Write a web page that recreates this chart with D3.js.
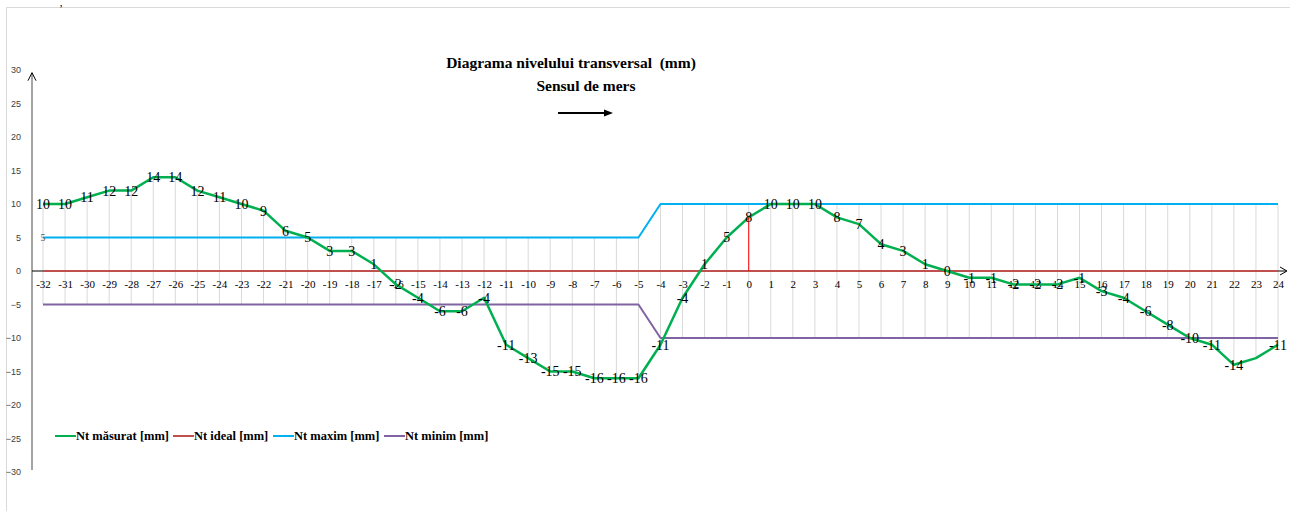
<!DOCTYPE html>
<html><head><meta charset="utf-8">
<script src="https://cdnjs.cloudflare.com/ajax/libs/d3/7.8.5/d3.min.js"></script>
<style>
html,body{margin:0;padding:0;background:#fff;}
svg{display:block;}
</style></head>
<body>
<svg id="c" width="1290" height="511"></svg>
<script>
// ---- data ----
const categories = d3.range(-32, 25);
const measured = [10,10,11,12,12,14,14,12,11,10,9,6,5,3,3,1,-2,-4,-6,-6,-4,-11,-13,-15,-15,-16,-16,-16,-11,-4,1,5,8,10,10,10,8,7,4,3,1,0,-1,-1,-2,-2,-2,-1,-3,-4,-6,-8,-10,-11,-14,-13,-11];
const ideal = categories.map(() => 0);
const maxim = [5,5,5,5,5,5,5,5,5,5,5,5,5,5,5,5,5,5,5,5,5,5,5,5,5,5,5,5,10,10,10,10,10,10,10,10,10,10,10,10,10,10,10,10,10,10,10,10,10,10,10,10,10,10,10,10,10];
const minim = [-5,-5,-5,-5,-5,-5,-5,-5,-5,-5,-5,-5,-5,-5,-5,-5,-5,-5,-5,-5,-5,-5,-5,-5,-5,-5,-5,-5,-10,-10,-10,-10,-10,-10,-10,-10,-10,-10,-10,-10,-10,-10,-10,-10,-10,-10,-10,-10,-10,-10,-10,-10,-10,-10,-10,-10,-10];
const unlabeled = [23];
const maximLabelAt = [-32];
const redMarker = [{cat: 0, from: 0, to: 8}];
const yTicks = [30,25,20,15,10,5,0,-5,-10,-15,-20,-25,-30];
const seriesNames = ["Nt măsurat [mm]", "Nt ideal [mm]", "Nt maxim [mm]", "Nt minim [mm]"];
const seriesColors = ["#00B050", "#C0504D", "#00B0F0", "#8064A2"];
const title = "Diagrama nivelului transversal  (mm)";
const subtitle = "Sensul de mers";

// ---- chart ----
const svg = d3.select("#c");
const x = d3.scalePoint().domain(categories).range([43, 1278]);
const y = d3.scaleLinear().domain([-30, 30]).range([472, 70]);

// frame
svg.append("path").attr("d", "M6.5,511 V7.5 H1290").attr("fill", "none").attr("stroke", "#D9D9D9").attr("stroke-width", 1);
svg.append("text").attr("x", 60).attr("y", 6).attr("font-family", "Liberation Serif").attr("font-weight", "bold").attr("font-size", 9).text(",");

// high-low lines
const all = [measured, ideal, maxim, minim];
svg.append("g").selectAll("line").data(categories).join("line")
  .attr("x1", d => x(d)).attr("x2", d => x(d))
  .attr("y1", (d, i) => y(d3.max(all, s => s[i])))
  .attr("y2", (d, i) => y(d3.min(all, s => s[i])))
  .attr("stroke", "#D9D9D9").attr("stroke-width", 1);

// y axis
const yAxis = svg.append("g").attr("transform", "translate(32,0)")
  .call(d3.axisLeft(y).tickValues(yTicks).tickSize(0).tickPadding(11));
yAxis.select(".domain").attr("stroke", "#868686").attr("stroke-width", 1.5).attr("d", `M0,${y(-29.7)}V${y(29.6)}`);
yAxis.selectAll("text").attr("font-family", "Liberation Sans").attr("font-size", 9).attr("fill", "#404040");
svg.append("path").attr("d", `M28,${y(29)+4} L32,${y(29.6)} L36,${y(29)+4}`).attr("fill", "none").attr("stroke", "#000").attr("stroke-width", 1);

// x axis line with arrow
svg.append("line").attr("x1", 32).attr("x2", 1286).attr("y1", y(0)).attr("y2", y(0)).attr("stroke", "#000").attr("stroke-width", 1);
svg.append("path").attr("d", `M1280,${y(0)-4} L1287,${y(0)} L1280,${y(0)+4}`).attr("fill", "none").attr("stroke", "#000").attr("stroke-width", 1);

// x tick labels
const xAxis = svg.append("g").attr("transform", `translate(0,${y(0)})`)
  .call(d3.axisBottom(x).tickSize(0).tickPadding(9));
xAxis.select(".domain").remove();
xAxis.selectAll("text").attr("font-family", "Liberation Serif").attr("font-size", 11).attr("fill", "#000");

// series lines
const line = d3.line().x((d, i) => x(categories[i])).y(d => y(d));
const order = [1, 2, 3, 0];
order.forEach(k => {
  svg.append("path").datum(all[k]).attr("d", line).attr("fill", "none")
    .attr("stroke", seriesColors[k]).attr("stroke-width", k === 0 ? 2.5 : 2).attr("stroke-linejoin", "round");
});

// red marker
svg.append("g").selectAll("line").data(redMarker).join("line")
  .attr("x1", d => x(d.cat)).attr("x2", d => x(d.cat))
  .attr("y1", d => y(d.from)).attr("y2", d => y(d.to))
  .attr("stroke", "#FF0000").attr("stroke-width", 1);

// data labels
svg.append("g").selectAll("text").data(categories.map((c, i) => ({c, v: measured[i]})).filter(d => !unlabeled.includes(d.c)))
  .join("text")
  .attr("x", d => x(d.c)).attr("y", d => y(d.v)).attr("dy", "0.35em")
  .attr("text-anchor", "middle").attr("font-family", "Liberation Serif").attr("font-size", 14).attr("fill", "#000")
  .text(d => d.v);
svg.append("g").selectAll("text").data(maximLabelAt).join("text")
  .attr("x", d => x(d)).attr("y", d => y(maxim[categories.indexOf(d)])).attr("dy", "0.35em")
  .attr("text-anchor", "middle").attr("font-family", "Liberation Serif").attr("font-size", 10).attr("fill", "#595959")
  .text(d => maxim[categories.indexOf(d)]);

// title
svg.append("text").attr("x", 571).attr("y", 68).attr("text-anchor", "middle").style("white-space", "pre")
  .attr("font-family", "Liberation Serif").attr("font-weight", "bold").attr("font-size", 15.5).text(title);
svg.append("text").attr("x", 586).attr("y", 91).attr("text-anchor", "middle")
  .attr("font-family", "Liberation Serif").attr("font-weight", "bold").attr("font-size", 15.5).text(subtitle);
svg.append("line").attr("x1", 558).attr("x2", 606).attr("y1", 113).attr("y2", 113).attr("stroke", "#000").attr("stroke-width", 2);
svg.append("path").attr("d", "M604,109.5 L613,113 L604,116.5 Z").attr("fill", "#000");

// legend
const legendX = [55, 173, 273, 384];
const lg = svg.append("g").selectAll("g").data(seriesNames).join("g")
  .attr("transform", (d, i) => `translate(${legendX[i]},436)`);
lg.append("line").attr("x1", 0).attr("x2", 21).attr("stroke", (d, i) => seriesColors[i]).attr("stroke-width", 2);
lg.append("text").attr("x", 21).attr("dy", "0.35em").attr("font-family", "Liberation Serif").attr("font-weight", "bold").attr("font-size", 12.5).text(d => d);
</script>
</body></html>
